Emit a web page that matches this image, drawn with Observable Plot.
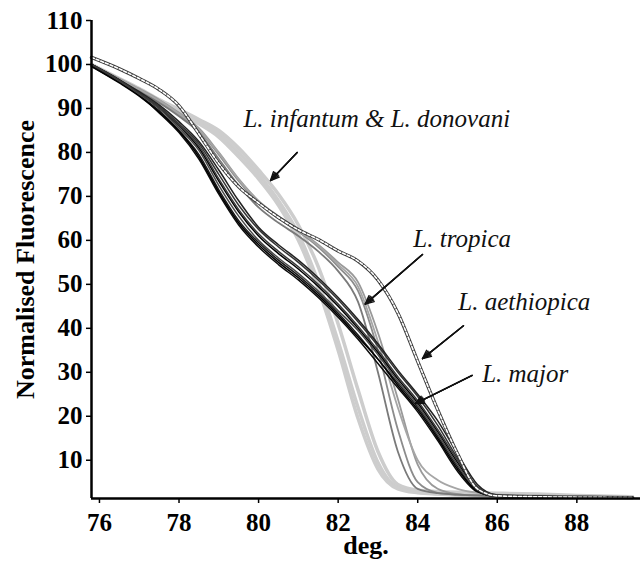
<!DOCTYPE html>
<html>
<head>
<meta charset="utf-8">
<script src="https://cdn.jsdelivr.net/npm/d3@7"></script>
<script src="https://cdn.jsdelivr.net/npm/@observablehq/plot@0.6"></script>
<style>
  html, body { margin: 0; padding: 0; background: #fff; }
</style>
</head>
<body>
<div id="chart"></div>
<script>
// Temperature grid (deg.)
const temps = [75.8, 76.5, 77, 77.5, 78, 78.5, 79, 79.5, 80, 80.5, 81, 81.5, 82, 82.5, 83, 83.5, 84, 84.5, 85, 85.5, 86, 87, 88, 89.4];

// L. major (black bundle)
const majorSeries = [
  [100, 96.5, 93.5, 90, 86, 81, 73.5, 66.5, 61, 57, 53.5, 49.5, 45, 40, 34.5, 28.5, 23, 16.5, 9.5, 3.5, 1.9, 1.7, 1.6, 1.5],
  [100, 96, 93, 89.5, 85, 79.5, 71.5, 64.5, 59.5, 55.5, 52, 48, 43.5, 38.5, 33, 27.5, 22, 15.5, 8.5, 3, 1.8, 1.7, 1.6, 1.5],
  [99.5, 96, 93.5, 90.5, 86.5, 82, 75, 68, 62.5, 58.5, 55, 51, 46.5, 41.5, 36, 30, 24.5, 18, 10.5, 4, 2, 1.7, 1.6, 1.5],
  [100, 96.3, 93, 89, 84.5, 78.5, 70.5, 63.5, 58.5, 54.5, 51, 47, 42.5, 37.5, 32, 26.5, 21, 14.5, 7.5, 2.8, 1.8, 1.7, 1.6, 1.5],
  [99.8, 96.2, 93.2, 90, 85.5, 80.5, 72.5, 65.5, 60, 56, 52.5, 48.5, 44, 39.5, 34, 28, 22.5, 16, 9, 3.3, 1.9, 1.7, 1.6, 1.5],
  [100, 96.5, 93.8, 90.8, 87, 82.5, 76, 69, 63, 59, 55.5, 51.5, 47, 42, 36.5, 30.5, 25, 19, 11.5, 4.5, 2.1, 1.8, 1.6, 1.5],
  [99.6, 95.8, 92.8, 89.2, 84.8, 79, 71, 64, 59, 55, 51.5, 47.5, 43, 38, 33, 27, 21.5, 15, 8, 3, 1.8, 1.7, 1.6, 1.5],
  [100, 96.4, 93.4, 90.3, 86.2, 81.5, 74, 67, 61.5, 57.5, 54, 50, 45.5, 40.5, 35, 29, 23.5, 17, 10, 3.8, 2, 1.7, 1.6, 1.5]
];
const majorColors = ["#000000", "#1a1a1a", "#333333", "#0d0d0d", "#4a4a4a", "#222222", "#000000", "#3a3a3a"];

// L. tropica (mid grey)
const tropicaSeries = [
  [100, 96.6, 94.2, 91.6, 88.5, 85, 79.5, 73.5, 68.5, 65, 62, 58.5, 54, 48.5, 35, 17, 5, 2.6, 2.2, 2, 1.9, 1.8, 1.7, 1.6],
  [100, 96.8, 94.5, 92, 89, 85.5, 80, 74, 69, 65.5, 62.5, 59, 55, 50.5, 39, 24, 9, 3.5, 2.3, 2, 1.9, 1.8, 1.7, 1.6],
  [99.8, 96.4, 94, 91.3, 88.2, 84.5, 78.5, 72.5, 67.5, 64, 61, 57.5, 53, 46, 30, 12, 3.5, 2.5, 2.2, 2, 1.9, 1.8, 1.7, 1.6],
  [100, 96.7, 94.3, 91.8, 88.8, 85.2, 79.8, 73.8, 68.8, 65.2, 62.2, 58.8, 54.5, 49.5, 37, 22, 10, 5.5, 3.5, 2.6, 2.2, 2, 1.8, 1.6]
];
const tropicaColors = ["#8c8c8c", "#999999", "#7a7a7a", "#a6a6a6"];

// L. infantum & L. donovani (light grey, thick)
const infantumSeries = [
  [100, 96.8, 94.5, 92, 89.8, 87.5, 85, 81, 76, 70.5, 63.5, 54, 41, 26, 12, 4.5, 3.2, 2.9, 2.7, 2.6, 2.5, 2.3, 2, 1.7],
  [100, 96.6, 94.2, 91.7, 89.3, 87, 84.3, 80, 75, 69, 61.5, 50.5, 37, 22, 9.5, 3.8, 2.8, 2.4, 2.2, 2.1, 2, 1.9, 1.8, 1.6],
  [99.8, 96.5, 94, 91.5, 89, 86.5, 83.5, 79, 74, 68, 60, 49, 35, 19.5, 8, 3.5, 2.6, 2.3, 2.1, 2, 1.9, 1.8, 1.7, 1.6]
];

// L. aethiopica (dashed)
const aethiopicaSeries = [
  [101.6, 99, 96.8, 94.3, 90.6, 84.2, 77.5, 72.2, 68.5, 65.2, 62.4, 60.2, 57.6, 55.3, 51, 43.5, 32.5, 21.5, 11.5, 3.5, 1.9, 1.7, 1.6, 1.5]
];

// Ticks
const xTicks = [76, 78, 80, 82, 84, 86, 88];
const yTicks = [10, 20, 30, 40, 50, 60, 70, 80, 90, 100, 110];

// Annotations
const labelText = ["L. infantum & L. donovani", "L. tropica", "L. aethiopica", "L. major"];
const labelX = [79.62, 83.89, 85.02, 85.62];
const labelY = [85.7, 58.4, 44.1, 27.7];
const arrowX1 = [80.97, 84.12, 85.15, 85.37];
const arrowY1 = [80.0, 56.8, 40.6, 29.3];
const arrowX2 = [80.30, 82.68, 84.12, 83.94];
const arrowY2 = [73.6, 45.5, 33.1, 22.9];

function toRows(series, group, colors) {
  const rows = [];
  series.forEach((s, k) => {
    s.forEach((v, i) => rows.push({x: temps[i], y: v, id: group + k, color: colors ? colors[k % colors.length] : null}));
  });
  return rows;
}
const majorRows = toRows(majorSeries, "major", majorColors);
const tropicaRows = toRows(tropicaSeries, "tropica", tropicaColors);
const infantumRows = toRows(infantumSeries, "infantum");
const aethRows = toRows(aethiopicaSeries, "aeth");

const labels = labelText.map((t, i) => ({t, x: labelX[i], y: labelY[i]}));
const arrows = arrowX1.map((_, i) => ({x1: arrowX1[i], y1: arrowY1[i], x2: arrowX2[i], y2: arrowY2[i]}));

const serif = "'Liberation Serif', 'Times New Roman', Times, serif";
const arrowOpts = {x1: "x1", y1: "y1", x2: "x2", y2: "y2", stroke: "#111", strokeWidth: 1.4, headLength: 10};

const chart = Plot.plot({
  width: 641,
  height: 565,
  marginLeft: 91,
  marginRight: 1,
  marginTop: 20,
  marginBottom: 67,
  style: {fontFamily: serif, fontSize: "25px", fontWeight: "bold", color: "#000", background: "#fff"},
  x: {domain: [75.8, 89.6]},
  y: {domain: [1.3, 110]},
  marks: [
    Plot.line(infantumRows, {x: "x", y: "y", z: "id", stroke: "#cdcdcd", strokeWidth: 3.5, curve: "monotone-x"}),
    Plot.line(tropicaRows, {x: "x", y: "y", z: "id", stroke: "color", strokeWidth: 1.8, curve: "monotone-x"}),
    Plot.line(majorRows, {x: "x", y: "y", z: "id", stroke: "color", strokeWidth: 1.5, curve: "monotone-x"}),
    Plot.line(aethRows, {x: "x", y: "y", z: "id", stroke: "#3a3a3a", strokeWidth: 3.4, curve: "monotone-x"}),
    Plot.line(aethRows, {x: "x", y: "y", z: "id", stroke: "#fff", strokeWidth: 1.6, strokeDasharray: "3,2", curve: "monotone-x"}),
    Plot.ruleX([75.8], {strokeWidth: 2.5, stroke: "#000"}),
    Plot.ruleY([1.3], {strokeWidth: 2.5, stroke: "#000"}),
    Plot.axisX({ticks: xTicks, tickSize: 5, tickPadding: 10, strokeWidth: 1.5, fontSize: 25, fontWeight: "bold", fontFamily: serif, label: null, tickFormat: d => String(d)}),
    Plot.axisY({ticks: yTicks, tickSize: 5, tickPadding: 4, strokeWidth: 1.5, fontSize: 25, fontWeight: "bold", fontFamily: serif, label: null, tickFormat: d => String(d)}),
    Plot.text(["deg."], {frameAnchor: "bottom", lineAnchor: "bottom", dy: 55, fontSize: 26, fontWeight: "bold", fontFamily: serif}),
    Plot.text(["Normalised Fluorescence"], {frameAnchor: "left", textAnchor: "middle", lineAnchor: "bottom", rotate: -90, dx: -58, fontSize: 26, fontWeight: "bold", fontFamily: serif}),
    Plot.arrow(arrows, {...arrowOpts, headAngle: 50}),
    Plot.arrow(arrows, {...arrowOpts, headAngle: 32}),
    Plot.arrow(arrows, {...arrowOpts, headAngle: 16}),
    Plot.text(labels, {x: "x", y: "y", text: "t", textAnchor: "start", lineAnchor: "bottom", fontSize: 25, fontWeight: "normal", fontStyle: "italic", fontFamily: serif, fill: "#111"})
  ]
});
document.getElementById("chart").appendChild(chart);
</script>
</body>
</html>
